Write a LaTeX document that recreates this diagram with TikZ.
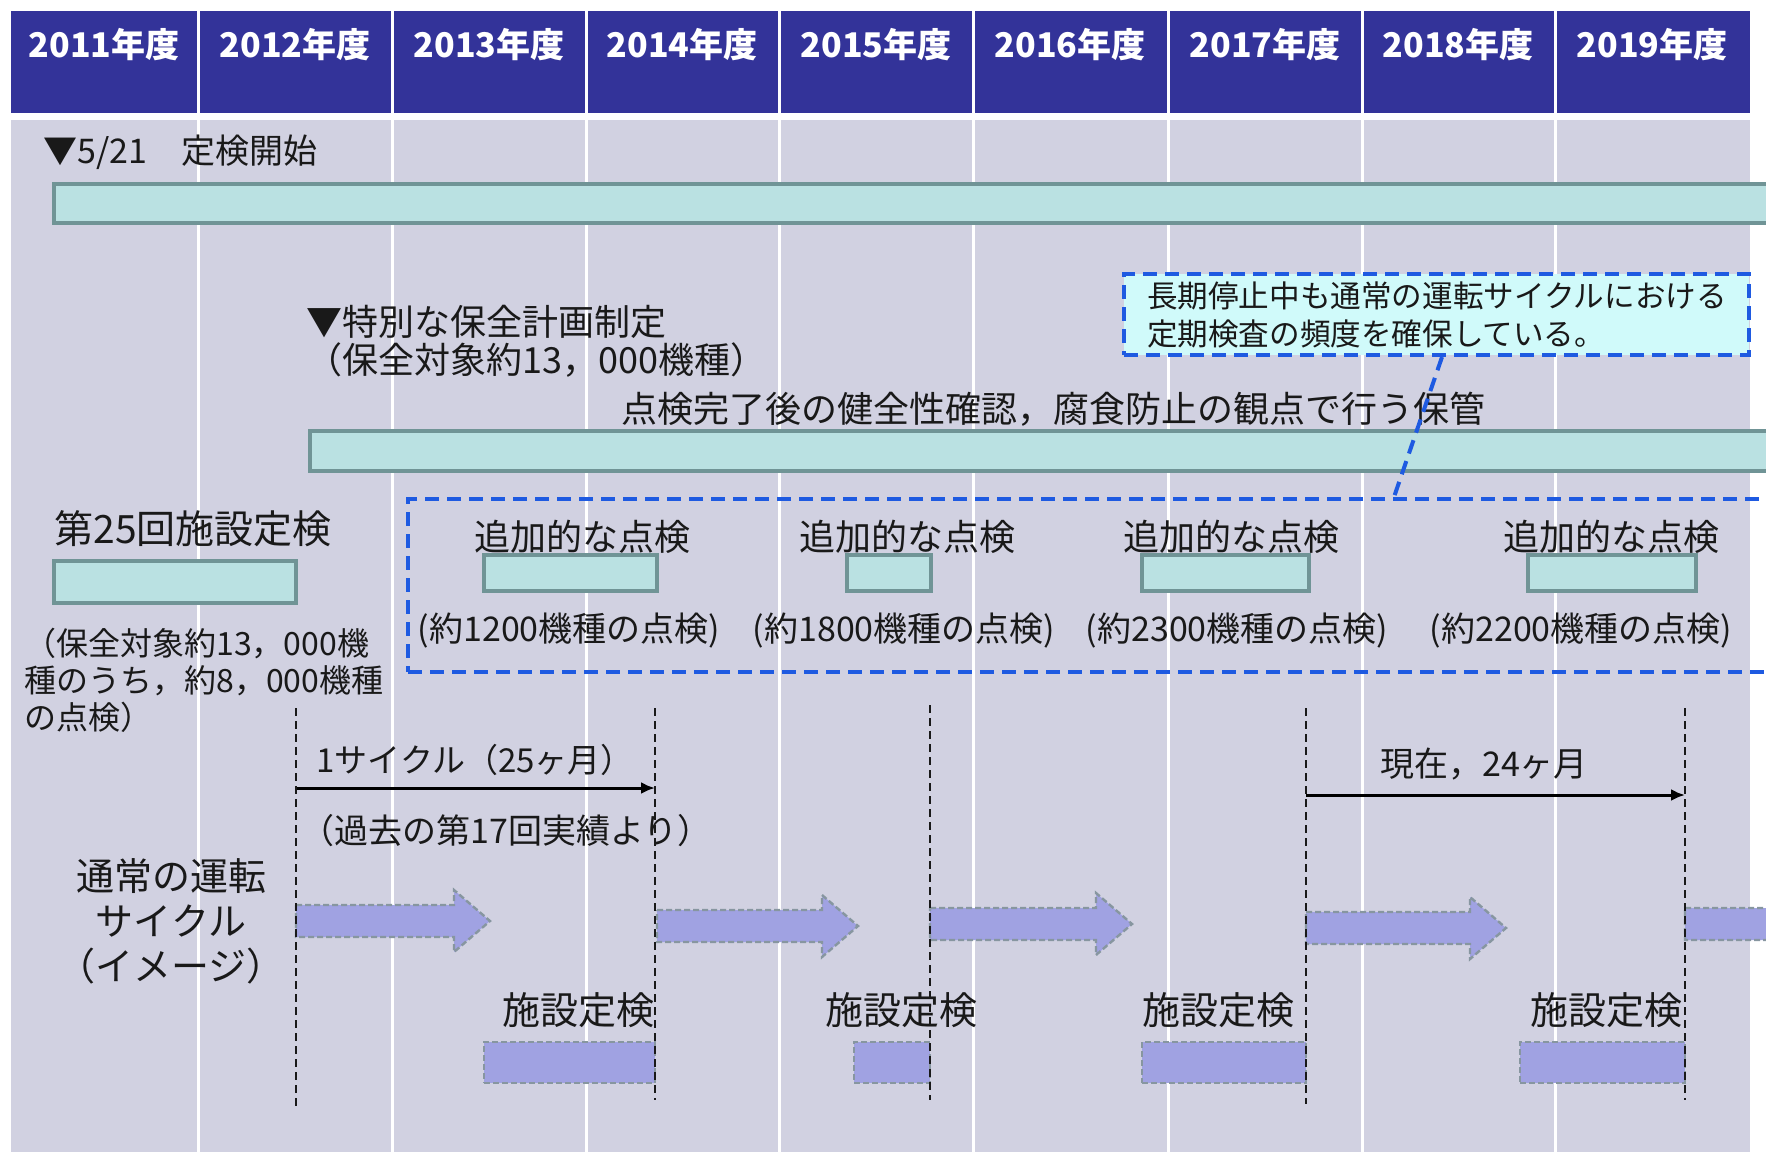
\documentclass[tikz,border=0pt]{standalone}
\usepackage{fontspec}
\setmainfont{Noto Sans CJK JP}
\usetikzlibrary{fit,arrows.meta,calc}
\definecolor{bgl}{RGB}{209,209,225}
\definecolor{hdr}{RGB}{51,51,153}
\definecolor{barfill}{RGB}{186,225,226}
\definecolor{bardraw}{RGB}{112,148,150}
\definecolor{dblue}{RGB}{30,90,225}
\definecolor{callfill}{RGB}{208,250,250}
\definecolor{arrfill}{RGB}{160,162,226}
\definecolor{arrdraw}{RGB}{135,150,160}
\definecolor{ink}{RGB}{25,25,25}
\begin{document}
\begin{tikzpicture}[x=0.5pt,y=-0.5pt,
  txt/.style={inner sep=0pt, text=ink},
  hdrcell/.style={fill=hdr, draw=none, inner sep=0pt},
  hdrtxt/.style={inner sep=0pt, text=white, font=\fontsize{17pt}{20pt}\selectfont\bfseries},
  bar/.style={fill=barfill, draw=bardraw, line width=2pt, inner sep=0pt},
  bluedash/.style={draw=dblue, line width=2pt, dash pattern=on 7pt off 4pt},
  purp/.style={fill=arrfill, draw=arrdraw, line width=1.2pt, dash pattern=on 3pt off 1.5pt, inner sep=0pt},
  divline/.style={draw=ink, line width=1.1pt, dash pattern=on 4pt off 2.5pt},
  span/.style={draw=black, line width=1.5pt, -{Latex[length=7pt,width=6pt]}},
]
\useasboundingbox (0,0) rectangle (1766,1152);
\fill[white] (0,0) rectangle (1766,1152);
% body background
\fill[bgl] (11,120) rectangle (1750,1152);
\foreach \bx in {198,392,586,779,973,1168,1362,1555}{
  \draw[white, line width=1.5pt] (\bx,120) -- (\bx,1152);
}
% header
\node[hdrcell, fit={(11,11) (196.5,113)}] (h1) {};
\node[hdrcell, fit={(199.5,11) (390.5,113)}] (h2) {};
\node[hdrcell, fit={(393.5,11) (584.5,113)}] (h3) {};
\node[hdrcell, fit={(587.5,11) (777.5,113)}] (h4) {};
\node[hdrcell, fit={(780.5,11) (971.5,113)}] (h5) {};
\node[hdrcell, fit={(974.5,11) (1166.5,113)}] (h6) {};
\node[hdrcell, fit={(1169.5,11) (1360.5,113)}] (h7) {};
\node[hdrcell, fit={(1363.5,11) (1553.5,113)}] (h8) {};
\node[hdrcell, fit={(1556.5,11) (1750,113)}] (h9) {};
\node[hdrtxt] (t1) at (104,45) {2011年度};
\node[hdrtxt] (t2) at (295,45) {2012年度};
\node[hdrtxt] (t3) at (489,45) {2013年度};
\node[hdrtxt] (t4) at (682,45) {2014年度};
\node[hdrtxt] (t5) at (876,45) {2015年度};
\node[hdrtxt] (t6) at (1070,45) {2016年度};
\node[hdrtxt] (t7) at (1265,45) {2017年度};
\node[hdrtxt] (t8) at (1458,45) {2018年度};
\node[hdrtxt] (t9) at (1652,45) {2019年度};

% row 1
\node[txt, anchor=west, font=\fontsize{17pt}{20pt}\selectfont] (start) at (43,152) {▼5/21　定検開始};
\node[bar, fit={(54,184) (1800,223)}] (bar1) {};

% callout
\node[fill=callfill, draw=dblue, line width=2pt, dash pattern=on 7pt off 4pt,
      minimum width=312.5pt, minimum height=40.5pt, text width=289.5pt, inner xsep=11.5pt, inner ysep=0pt,
      align=left, text=ink, font=\fontsize{15.3pt}{19pt}\selectfont] (callout) at (1436.5,314.5)
  {長期停止中も通常の運転サイクルにおける\\定期検査の頻度を確保している。};

% special plan
\node[txt, anchor=west, align=left, font=\fontsize{18pt}{19pt}\selectfont] (plan) at (306,341)
  {▼特別な保全計画制定\\（保全対象約13，000機種）};
\node[txt, font=\fontsize{18pt}{21pt}\selectfont] (keep) at (1053,409)
  {点検完了後の健全性確認，腐食防止の観点で行う保管};
\node[bar, fit={(310,431) (1800,471)}] (bar2) {};

% big dashed box
\node[draw=dblue, line width=2pt, dash pattern=on 7pt off 4pt, inner sep=0pt, fit={(408,499) (1800,672)}] (bigbox) {};
\path (1442,0) coordinate (cAx) (1394,0) coordinate (cBx);
\draw[bluedash] (callout.south -| cAx) -- (bigbox.north -| cBx);

% 25th inspection
\node[txt, anchor=west, font=\fontsize{19.5pt}{22pt}\selectfont] (ins25) at (54,529) {第25回施設定検};
\node[bar, fit={(54,561) (296,603)}] (bar3) {};
\node[txt, anchor=north west, align=left, font=\fontsize{16pt}{18.5pt}\selectfont] (note25) at (24,628)
  {（保全対象約13，000機\\種のうち，約8，000機種\\の点検）};

% additional inspections
\foreach \n/\cx/\bxa/\bxb/\lx/\num in {1/582/484/657/569/1200, 2/907/847/931/904/1800, 3/1231/1142/1309/1237/2300, 4/1611/1528/1696/1581/2200}{
  \node[txt, font=\fontsize{18pt}{21pt}\selectfont] (add\n) at (\cx,537) {追加的な点検};
  \node[bar, fit={(\bxa,555) (\bxb,591)}] (addbar\n) {};
  \node[txt, font=\fontsize{17pt}{20pt}\selectfont] (addn\n) at (\lx,631) {(約\num 機種の点検)};
}

% divider lines
\path (296,708) coordinate (d1t) (296,1108) coordinate (d1b)
      (655,708) coordinate (d2t) (655,1100) coordinate (d2b)
      (930,705) coordinate (d3t) (930,1100) coordinate (d3b)
      (1306,708) coordinate (d4t) (1306,1104) coordinate (d4b)
      (1685,708) coordinate (d5t) (1685,1100) coordinate (d5b);
\foreach \i in {1,...,5}{ \draw[divline] (d\i t) -- (d\i b); }

% cycle arrows
\path (296,788) coordinate (a1s) (655,788) coordinate (a1e)
      (1306,795) coordinate (a2s) (1685,795) coordinate (a2e);
\draw[span] (a1s) -- (a1e);
\draw[span] (a2s) -- (a2e);
\node[txt, font=\fontsize{16.5pt}{19pt}\selectfont] (cyc1) at (475,760) {1サイクル（25ヶ月）};
\node[txt, anchor=west, font=\fontsize{17pt}{20pt}\selectfont] (cyc1b) at (300,831) {（過去の第17回実績より）};
\node[txt, font=\fontsize{17pt}{20pt}\selectfont] (cyc2) at (1484,764) {現在，24ヶ月};

% normal cycle label
\node[txt, align=center, font=\fontsize{19pt}{22.5pt}\selectfont] (normal) at (171,921)
  {通常の運転\\サイクル\\（イメージ）};

% block arrows
\foreach \xa/\xb/\yc in {296/490/921, 657/858/926, 930/1132/924, 1306/1506/928, 1685/1885/924}{
  \draw[purp] (\xa,\yc-16) -- (\xb-36,\yc-16) -- (\xb-36,\yc-31) -- (\xb,\yc) -- (\xb-36,\yc+31)
      -- (\xb-36,\yc+16) -- (\xa,\yc+16) -- cycle;
}

% facility inspections
\node[txt, anchor=east, font=\fontsize{19pt}{22pt}\selectfont] (fi1) at (655,1010) {施設定検};
\node[txt, font=\fontsize{19pt}{22pt}\selectfont] (fi2) at (901,1010) {施設定検};
\node[txt, anchor=east, font=\fontsize{19pt}{22pt}\selectfont] (fi3) at (1295,1010) {施設定検};
\node[txt, anchor=east, font=\fontsize{19pt}{22pt}\selectfont] (fi4) at (1683,1010) {施設定検};
\node[purp, fit={(484,1042) (655,1083)}] (fb1) {};
\node[purp, fit={(854,1042) (930,1083)}] (fb2) {};
\node[purp, fit={(1142,1042) (1306,1083)}] (fb3) {};
\node[purp, fit={(1520,1042) (1685,1083)}] (fb4) {};
% redraw dividers on top of boxes
\foreach \i in {1,...,5}{ \draw[divline] (d\i t) -- (d\i b); }
\end{tikzpicture}
\end{document}
